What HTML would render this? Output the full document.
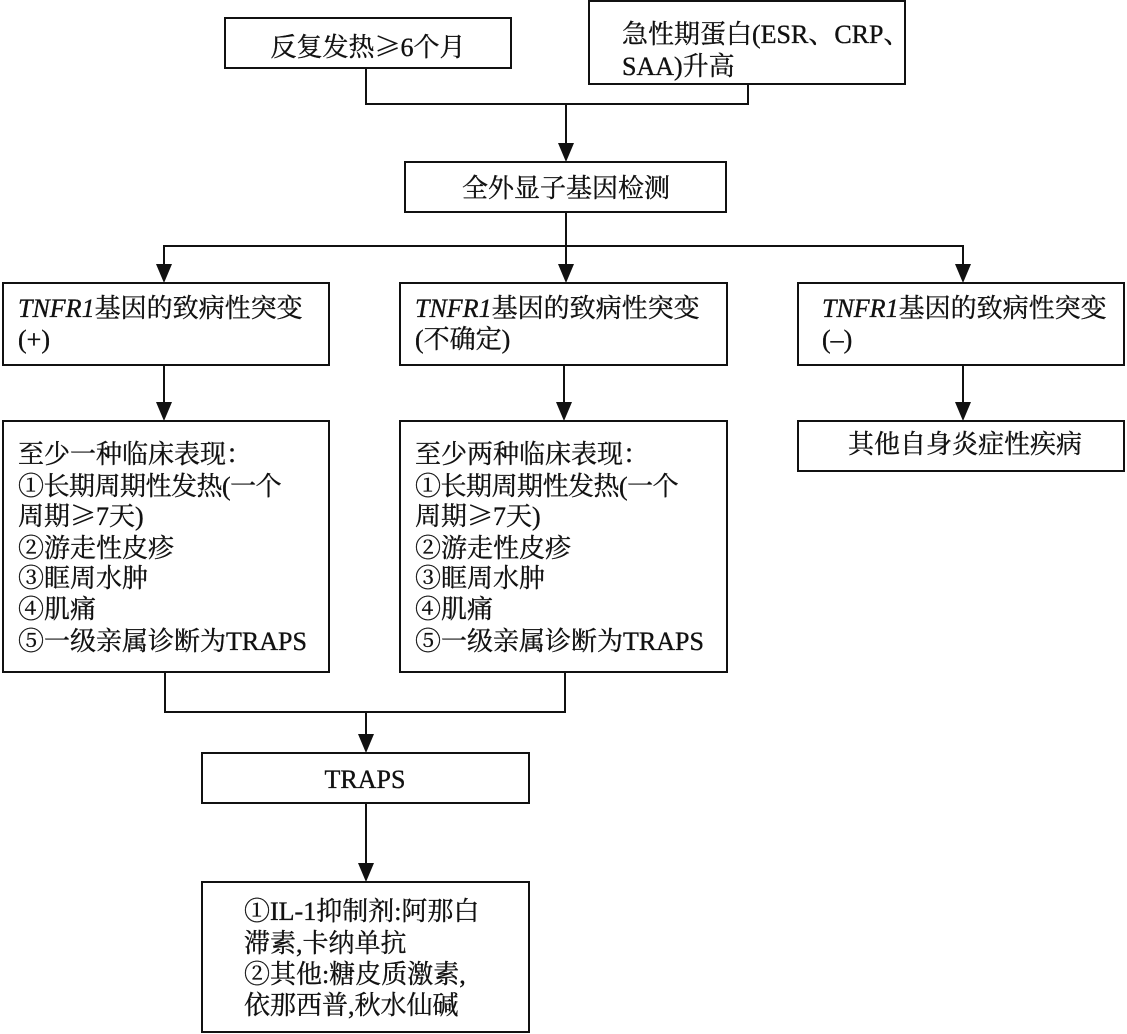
<!DOCTYPE html>
<html>
<head>
<meta charset="utf-8">
<style>
  html, body { margin:0; padding:0; background:#fff; }
  body { width:1127px; height:1034px; overflow:hidden; }
  svg { display:block; }
  text { font-family: "Liberation Serif", "Noto Serif CJK SC", serif; font-size:26px; fill:#111; stroke:#111; stroke-width:0.35px; }
  .cjk { font-family: "Noto Serif CJK SC", serif; }
</style>
</head>
<body>
<svg width="1127" height="1034" viewBox="0 0 1127 1034" xmlns="http://www.w3.org/2000/svg">
  <g fill="none" stroke="#111" stroke-width="2">
    <!-- boxes -->
    <rect x="225" y="18" width="286" height="50"/>
    <rect x="589" y="1" width="316" height="83"/>
    <rect x="405" y="162" width="321" height="50"/>
    <rect x="3" y="283" width="326" height="82"/>
    <rect x="400" y="283" width="327" height="82"/>
    <rect x="798" y="283" width="326" height="82"/>
    <rect x="3" y="421" width="326" height="251"/>
    <rect x="400" y="421" width="327" height="251"/>
    <rect x="798" y="421" width="326" height="50"/>
    <rect x="202" y="753" width="327" height="50"/>
    <rect x="202" y="882" width="327" height="150"/>
    <!-- connectors -->
    <polyline points="366,68 366,104 748,104 748,84"/>
    <line x1="566" y1="104" x2="566" y2="146"/>
    <line x1="566" y1="212" x2="566" y2="267"/>
    <polyline points="164,265 164,246 963,246 963,265"/>
    <line x1="164" y1="365" x2="164" y2="404"/>
    <line x1="564" y1="365" x2="564" y2="404"/>
    <line x1="963" y1="365" x2="963" y2="404"/>
    <polyline points="165,672 165,712 565,712 565,672"/>
    <line x1="366" y1="712" x2="366" y2="736"/>
    <line x1="366" y1="803" x2="366" y2="866"/>
  </g>
  <g fill="#111">
    <polygon points="566,162 558,143 574,143"/>
    <polygon points="566,283 558,264 574,264"/>
    <polygon points="164,283 156,264 172,264"/>
    <polygon points="963,283 955,264 971,264"/>
    <polygon points="164,421 156,402 172,402"/>
    <polygon points="564,421 556,402 572,402"/>
    <polygon points="963,421 955,402 971,402"/>
    <polygon points="366,753 358,734 374,734"/>
    <polygon points="366,882 358,863 374,863"/>
  </g>

  <!-- texts -->
  <text x="368" y="56" text-anchor="middle">反复发热<tspan class="cjk">≥</tspan>6个月</text>
  <text x="622" y="43">急性期蛋白(ESR、CRP、</text>
  <text x="622" y="75">SAA)升高</text>
  <text x="566" y="197" text-anchor="middle">全外显子基因检测</text>

  <text x="18" y="317"><tspan font-style="italic">TNFR1</tspan>基因的致病性突变</text>
  <text x="18" y="348">(+)</text>
  <text x="415" y="317"><tspan font-style="italic">TNFR1</tspan>基因的致病性突变</text>
  <text x="415" y="348">(不确定)</text>
  <text x="822" y="317"><tspan font-style="italic">TNFR1</tspan>基因的致病性突变</text>
  <text x="822" y="348">(–)</text>

  <g>
    <text x="18" y="463">至少一种临床表现：</text>
    <text x="18" y="495" letter-spacing="-0.5">①长期周期性发热(一个</text>
    <text x="18" y="525">周期<tspan class="cjk">≥</tspan>7天)</text>
    <text x="18" y="557">②游走性皮疹</text>
    <text x="18" y="587">③眶周水肿</text>
    <text x="18" y="618">④肌痛</text>
    <text x="18" y="650">⑤一级亲属诊断为TRAPS</text>
  </g>
  <g>
    <text x="415" y="463">至少两种临床表现：</text>
    <text x="415" y="495" letter-spacing="-0.5">①长期周期性发热(一个</text>
    <text x="415" y="525">周期<tspan class="cjk">≥</tspan>7天)</text>
    <text x="415" y="557">②游走性皮疹</text>
    <text x="415" y="587">③眶周水肿</text>
    <text x="415" y="618">④肌痛</text>
    <text x="415" y="650">⑤一级亲属诊断为TRAPS</text>
  </g>

  <text x="965" y="453" text-anchor="middle">其他自身炎症性疾病</text>
  <text x="365" y="788" text-anchor="middle">TRAPS</text>

  <text x="244" y="920">①IL-1抑制剂:阿那白</text>
  <text x="244" y="952">滞素,卡纳单抗</text>
  <text x="244" y="983">②其他:糖皮质激素,</text>
  <text x="244" y="1014">依那西普,秋水仙碱</text>
</svg>
</body>
</html>
